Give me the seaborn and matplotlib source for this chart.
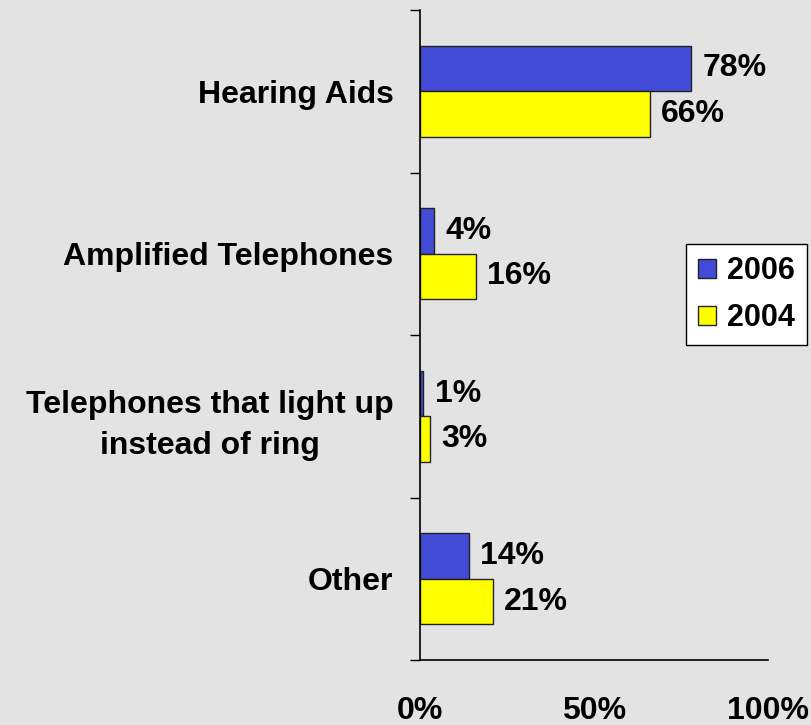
import pandas as pd
import seaborn as sns
import matplotlib.pyplot as plt

categories = ['Hearing Aids', 'Amplified Telephones',
              'Telephones that light up\ninstead of ring', 'Other']
years = ['2006', '2004']
vals_2006 = [78, 4, 1, 14]
vals_2004 = [66, 16, 3, 21]
x_ticks = [0, 50, 100]
x_labels = ['0%', '50%', '100%']

df = pd.DataFrame({
    'category': categories * 2,
    'year': [years[0]] * 4 + [years[1]] * 4,
    'pct': vals_2006 + vals_2004,
})

sns.set_style('white')
plt.rcParams['font.family'] = ['Liberation Sans', 'DejaVu Sans']
plt.rcParams['font.weight'] = 'bold'
plt.rcParams['text.color'] = 'black'
plt.rcParams['xtick.color'] = 'black'
plt.rcParams['ytick.color'] = 'black'

bg = '#E3E3E3'
fig = plt.figure(figsize=(8.11, 7.25), dpi=100, facecolor=bg)
ax = fig.add_axes([420 / 811, 1 - 660 / 725, 348 / 811, 650 / 725])
ax.set_facecolor(bg)

sns.barplot(data=df, y='category', x='pct', hue='year', orient='h',
            palette={'2006': '#434CD6', '2004': '#FFFF00'},
            width=0.56, edgecolor='#222222', linewidth=1.0,
            saturation=1, ax=ax, legend=True)

for cont in ax.containers:
    ax.bar_label(cont, labels=[f'{int(v)}%' for v in cont.datavalues],
                 padding=8, fontsize=23, fontweight='bold', color='black')

ax.set_xlim(0, 100)
ax.set_ylim(3.5, -0.5)
ax.set_xticks(x_ticks)
ax.set_xticklabels(x_labels, fontsize=23, fontweight='bold', color='black')
ax.tick_params(axis='x', direction='out', length=7, width=1, pad=19,
               color='black', labelcolor='black')

ax.set_yticks(range(len(categories)))
ax.set_yticklabels(categories, fontsize=23, fontweight='bold', color='black',
                   multialignment='center', linespacing=1.5)
ax.tick_params(axis='y', which='major', length=0, pad=19, labelcolor='black')
ax.set_yticks([-0.5, 0.5, 1.5, 2.5, 3.5], minor=True)
ax.tick_params(axis='y', which='minor', direction='out', length=7, width=1,
               color='black', left=True)

ax.set_xlabel('')
ax.set_ylabel('')
for side in ['top', 'right']:
    ax.spines[side].set_visible(False)
for side in ['left', 'bottom']:
    ax.spines[side].set_color('black')
    ax.spines[side].set_linewidth(1.2)

leg = ax.legend(loc='upper left', bbox_to_anchor=(0.764, 0.64),
                prop={'size': 22, 'weight': 'bold'}, frameon=True,
                fancybox=False, handlelength=0.6, handleheight=0.6,
                handletextpad=0.35, labelspacing=0.55, borderpad=0.4,
                borderaxespad=0)
leg.get_frame().set_edgecolor('black')
leg.get_frame().set_facecolor('white')
leg.get_frame().set_linewidth(1.0)
leg.get_frame().set_alpha(1)
for t in leg.get_texts():
    t.set_color('black')

fig.savefig('out.png', dpi=100, facecolor=bg)
